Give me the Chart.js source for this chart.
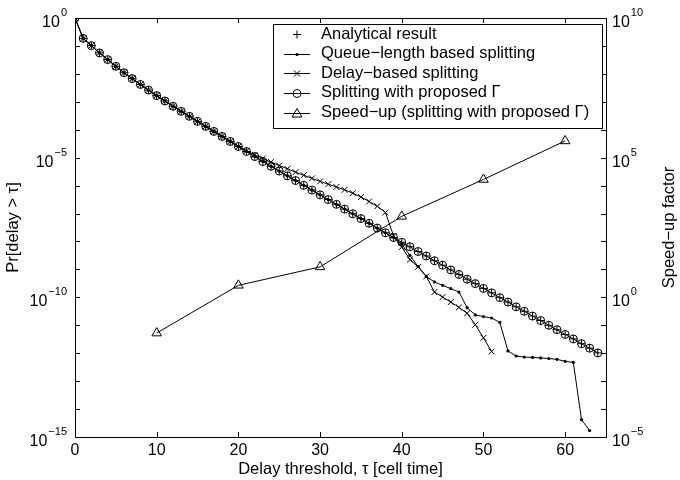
<!DOCTYPE html>
<html><head><meta charset="utf-8">
<script src="https://cdn.jsdelivr.net/npm/chart.js@4/dist/chart.umd.min.js"></script>
<style>html,body{margin:0;padding:0;background:#fff}#wrap{width:680px;height:480px}</style>
</head><body><div id="wrap"><canvas id="c" width="680" height="480"></canvas></div>
<script>
// Delay threshold tau (cell time)
const tau = [0,1,2,3,4,5,6,7,8,9,10,11,12,13,14,15,16,17,18,19,20,21,22,23,24,25,26,27,28,29,30,31,32,33,34,35,36,37,38,39,40,41,42,43,44,45,46,47,48,49,50,51,52,53,54,55,56,57,58,59,60,61,62,63,64];
// log10 Pr[delay > tau]
const analyticalLog10 = [0,-0.73,-0.99,-1.25,-1.49,-1.73,-1.96,-2.17,-2.38,-2.58,-2.78,-2.97,-3.16,-3.34,-3.52,-3.70,-3.88,-4.06,-4.24,-4.42,-4.60,-4.78,-4.96,-5.14,-5.31,-5.48,-5.65,-5.82,-5.99,-6.16,-6.33,-6.50,-6.67,-6.84,-7.01,-7.18,-7.35,-7.52,-7.69,-7.86,-8.03,-8.19,-8.36,-8.52,-8.69,-8.85,-9.02,-9.18,-9.35,-9.51,-9.68,-9.84,-10.01,-10.17,-10.34,-10.50,-10.67,-10.83,-11.00,-11.16,-11.33,-11.49,-11.66,-11.82,-11.99];
const proposedLog10 = [0,-0.73,-0.99,-1.25,-1.49,-1.73,-1.96,-2.17,-2.38,-2.58,-2.78,-2.97,-3.16,-3.34,-3.52,-3.70,-3.88,-4.06,-4.24,-4.42,-4.60,-4.78,-4.96,-5.14,-5.31,-5.48,-5.65,-5.82,-5.99,-6.16,-6.33,-6.50,-6.67,-6.84,-7.01,-7.18,-7.35,-7.52,-7.69,-7.86,-8.03,-8.19,-8.36,-8.52,-8.69,-8.85,-9.02,-9.18,-9.35,-9.51,-9.68,-9.84,-10.01,-10.17,-10.34,-10.50,-10.67,-10.83,-11.00,-11.16,-11.33,-11.49,-11.66,-11.82,-11.99];
const queueLog10 = [0,-0.73,-0.99,-1.25,-1.49,-1.73,-1.96,-2.17,-2.38,-2.58,-2.78,-2.97,-3.16,-3.34,-3.52,-3.70,-3.88,-4.06,-4.24,-4.42,-4.60,-4.78,-4.96,-5.14,-5.31,-5.48,-5.65,-5.82,-5.99,-6.16,-6.33,-6.50,-6.67,-6.84,-7.01,-7.18,-7.35,-7.52,-7.69,-7.86,-8.10,-8.50,-8.90,-9.25,-9.45,-9.57,-9.69,-9.81,-10.37,-10.63,-10.69,-10.74,-10.90,-11.92,-12.10,-12.14,-12.15,-12.17,-12.19,-12.22,-12.29,-12.33,-14.38,-14.77];
const delayLog10 = [0,-0.73,-0.99,-1.25,-1.49,-1.73,-1.96,-2.17,-2.38,-2.58,-2.78,-2.97,-3.16,-3.34,-3.52,-3.70,-3.88,-4.06,-4.24,-4.42,-4.60,-4.76,-4.90,-5.03,-5.16,-5.28,-5.40,-5.52,-5.63,-5.74,-5.85,-5.95,-6.05,-6.15,-6.27,-6.41,-6.57,-6.74,-6.96,-7.80,-8.20,-8.65,-8.91,-9.25,-9.81,-9.99,-10.17,-10.36,-10.57,-10.98,-11.45,-11.94];
// Speed-up factor
const speedTau = [10,20,30,40,50,60];
const speedLog10 = [-1.28,0.43,1.09,2.90,4.22,5.60];
// Axes / labels
const xTicks = [0,10,20,30,40,50,60];
const leftDecades = [0,-1,-2,-3,-4,-5,-6,-7,-8,-9,-10,-11,-12,-13,-14,-15];
const leftLabelExps = [0,-5,-10,-15];
const rightDecades = [10,9,8,7,6,5,4,3,2,1,0,-1,-2,-3,-4,-5];
const rightLabelExps = [10,5,0,-5];
const legendLabels = ['Analytical result','Queue\u2212length based splitting','Delay\u2212based splitting','Splitting with proposed \u0393','Speed\u2212up (splitting with proposed \u0393)'];
const xTitle = 'Delay threshold, \u03c4 [cell time]';
const yTitle = 'Pr[delay > \u03c4]';
const y2Title = 'Speed\u2212up factor';

const pts = (xs, ls) => ls.map((v, i) => ({x: xs[i], y: Math.pow(10, v)}));
const FONT = '"Liberation Sans", Arial, Helvetica, sans-serif';

function marker(ctx, style, x, y) {
  ctx.save();
  ctx.strokeStyle = '#000'; ctx.fillStyle = '#000'; ctx.lineWidth = 1;
  ctx.beginPath();
  if (style === 'cross') { ctx.moveTo(x-4,y); ctx.lineTo(x+4,y); ctx.moveTo(x,y-4); ctx.lineTo(x,y+4); ctx.stroke(); }
  else if (style === 'dot') { ctx.arc(x,y,1.6,0,Math.PI*2); ctx.fill(); }
  else if (style === 'x') { ctx.moveTo(x-3,y-3); ctx.lineTo(x+3,y+3); ctx.moveTo(x-3,y+3); ctx.lineTo(x+3,y-3); ctx.stroke(); }
  else if (style === 'circle') { ctx.arc(x,y,4,0,Math.PI*2); ctx.stroke(); }
  else if (style === 'tri') { ctx.moveTo(x,y-5); ctx.lineTo(x+5,y+3.5); ctx.lineTo(x-5,y+3.5); ctx.closePath(); ctx.stroke(); }
  ctx.restore();
}

function powLabel(ctx, exp, x, y, align) {
  const base = '10', sup = String(exp).replace('-', '\u2212');
  ctx.font = '16px ' + FONT;
  const wb = ctx.measureText(base).width;
  ctx.font = '11px ' + FONT;
  const ws = ctx.measureText(sup).width;
  const total = wb + ws + 1;
  let x0 = align === 'right' ? x - total : x;
  ctx.textAlign = 'left'; ctx.textBaseline = 'alphabetic'; ctx.fillStyle = '#000';
  ctx.font = '16px ' + FONT;
  ctx.fillText(base, x0, y + 9);
  ctx.font = '11px ' + FONT;
  ctx.fillText(sup, x0 + wb + 1, y - 2);
}

const framePlugin = {
  id: 'frame',
  afterDraw(chart) {
    const ctx = chart.ctx, a = chart.chartArea;
    const sx = chart.scales.x, sy = chart.scales.y, sy2 = chart.scales.y2;
    ctx.save();
    ctx.strokeStyle = '#000'; ctx.lineWidth = 1;
    ctx.strokeRect(Math.round(a.left)+0.5, Math.round(a.top)+0.5, Math.round(a.right-a.left), Math.round(a.bottom-a.top));
    ctx.beginPath();
    leftDecades.forEach(e => { const y = Math.round(sy.getPixelForValue(Math.pow(10,e)))+0.5; ctx.moveTo(a.left, y); ctx.lineTo(a.left+5, y); });
    rightDecades.forEach(e => { const y = Math.round(sy2.getPixelForValue(Math.pow(10,e)))+0.5; ctx.moveTo(a.right, y); ctx.lineTo(a.right-5, y); });
    xTicks.forEach(t => { const x = Math.round(sx.getPixelForValue(t))+0.5; ctx.moveTo(x, a.bottom); ctx.lineTo(x, a.bottom-5); ctx.moveTo(x, a.top); ctx.lineTo(x, a.top+5); });
    ctx.stroke();
    // tick labels
    leftLabelExps.forEach(e => powLabel(ctx, e, a.left - 8, sy.getPixelForValue(Math.pow(10,e)), 'right'));
    rightLabelExps.forEach(e => powLabel(ctx, e, a.right + 6, sy2.getPixelForValue(Math.pow(10,e)), 'left'));
    ctx.fillStyle = '#000'; ctx.font = '16px ' + FONT; ctx.textAlign = 'center'; ctx.textBaseline = 'top';
    xTicks.forEach(t => ctx.fillText(String(t), sx.getPixelForValue(t), a.bottom + 6));
    // titles
    ctx.font = '16.5px ' + FONT; ctx.textBaseline = 'alphabetic'; ctx.textAlign = 'center';
    ctx.fillText(xTitle, (a.left + a.right)/2, 474);
    ctx.save(); ctx.translate(18, (a.top + a.bottom)/2); ctx.rotate(-Math.PI/2); ctx.fillText(yTitle, 0, 0); ctx.restore();
    ctx.save(); ctx.translate(674, (a.top + a.bottom)/2); ctx.rotate(-Math.PI/2); ctx.fillText(y2Title, 0, 0); ctx.restore();
    // legend
    const lx = 273, ly = 24, lw = 329, lh = 104;
    ctx.fillStyle = '#fff'; ctx.fillRect(lx, ly, lw, lh);
    ctx.strokeStyle = '#000'; ctx.strokeRect(lx+0.5, ly+0.5, lw, lh);
    const rowsY = [34, 53.5, 73, 92.5, 112.5];
    const styles = ['cross','dot','x','circle','tri'];
    ctx.font = '16.5px ' + FONT; ctx.textAlign = 'left'; ctx.textBaseline = 'middle';
    legendLabels.forEach((t, i) => {
      const y = rowsY[i];
      if (i > 0) { ctx.beginPath(); ctx.moveTo(284, Math.round(y)+0.5); ctx.lineTo(310, Math.round(y)+0.5); ctx.stroke(); }
      marker(ctx, styles[i], 297, Math.round(y)+0.5);
      ctx.fillStyle = '#000'; ctx.fillText(t, 321, y);
    });
    ctx.restore();
  }
};

new Chart(document.getElementById('c'), {
  type: 'line',
  data: {
    datasets: [
      { label: legendLabels[0], data: pts(tau, analyticalLog10), showLine: false, pointStyle: 'cross', pointRadius: 4, pointBorderWidth: 1, borderColor: '#000', backgroundColor: '#000', yAxisID: 'y' },
      { label: legendLabels[1], data: pts(tau, queueLog10), borderColor: '#000', borderWidth: 1, pointStyle: 'circle', pointRadius: 1.6, pointBorderWidth: 0, pointBackgroundColor: '#000', tension: 0, yAxisID: 'y' },
      { label: legendLabels[2], data: pts(tau, delayLog10), borderColor: '#000', borderWidth: 1, pointStyle: 'crossRot', pointRadius: 4.2, pointBorderWidth: 1, pointBorderColor: '#000', tension: 0, yAxisID: 'y' },
      { label: legendLabels[3], data: pts(tau, proposedLog10), borderColor: '#000', borderWidth: 1, pointStyle: 'circle', pointRadius: 4, pointBorderWidth: 1, pointBackgroundColor: 'rgba(0,0,0,0)', tension: 0, yAxisID: 'y' },
      { label: legendLabels[4], data: pts(speedTau, speedLog10), borderColor: '#000', borderWidth: 1, pointStyle: 'triangle', pointRadius: 5.5, pointBorderWidth: 1, pointBackgroundColor: 'rgba(0,0,0,0)', tension: 0, yAxisID: 'y2' }
    ]
  },
  options: {
    responsive: false, animation: false, devicePixelRatio: 1,
    layout: { padding: { left: 75, right: 74, top: 18, bottom: 43 } },
    plugins: { legend: { display: false }, tooltip: { enabled: false } },
    scales: {
      x: { type: 'linear', min: 0, max: 65, display: false },
      y: { type: 'logarithmic', min: 1e-15, max: 1, display: false, position: 'left' },
      y2: { type: 'logarithmic', min: 1e-5, max: 1e10, display: false, position: 'right' }
    }
  },
  plugins: [framePlugin]
});
</script>
</body></html>
